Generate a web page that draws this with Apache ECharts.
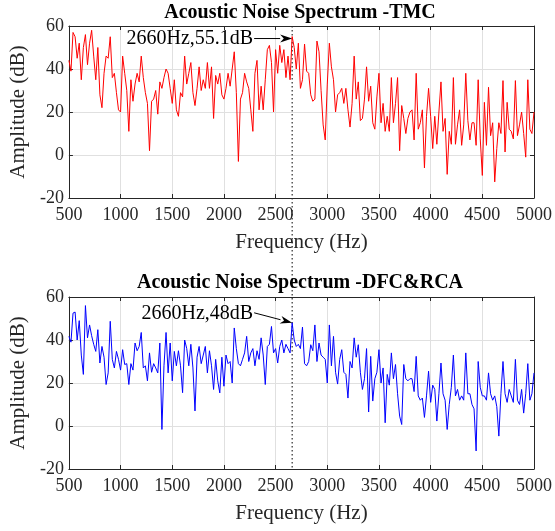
<!DOCTYPE html>
<html><head><meta charset="utf-8">
<script src="https://cdn.jsdelivr.net/npm/echarts@6/dist/echarts.min.js"></script>
<style>html,body{margin:0;padding:0;background:#fff}#c{width:555px;height:531px}</style>
</head><body><div id="c"></div>
<script>
// Sampling grid of the spectra (Hz)
const freqStart = 500;
const freqStep = 20;

// Acoustic noise spectrum with TMC (dB), 500..5000 Hz, 20 Hz step
const tmcAmplitude = [
  44, 39, 57, 55, 45, 52, 35, 50, 56, 42,
  52, 58, 46, 35, 50, 28, 22, 38, 46, 45,
  55, 36, 38, 29, 21, 20, 46, 38, 30, 11,
  35, 25, 33, 38, 34, 46, 36, 29, 24, 2,
  25, 26, 30, 19, 34, 31, 36, 40, 38, 31,
  24, 35, 21, 18, 29, 27, 46, 33, 38, 43,
  29, 23, 31, 41, 30, 35, 31, 43, 31, 41,
  17, 37, 33, 38, 28, 26, 31, 38, 32, 40,
  48, 29, -3, 26, 29, 38, 34, 31, 21, 11,
  38, 44, 21, 32, 21, 35, 49, 51, 43, 20,
  49, 38, 51, 43, 49, 36, 46, 35, 55.1, 50,
  40, 52, 31, 35, 51.6, 39, 38, 28, 25, 26,
  53, 48, 30, 14, 7, 33, 52, 41, 35, 20,
  28, 29, 31, 24, 31, 21, 13, 24, 46, 26,
  34, 16, 17, 26, 41, 25, 32, 15, 12, 27,
  38, 15, 24, 11, 18, 11, 36, 15, 24, 36,
  2, 23, 17, 10, 17, 20, 21, 7, 38, 12,
  15, 21, -6, 18, 31, 18, 3, 18, 5, 20,
  34, 11, 17, -9, 11, 5, 36, 5, 14, 21,
  4.5, 14, 38, 16, 7, 15, 15, 4.5, 35, 7.5,
  -9.5, 24.5, 4.5, 31.5, 9, 15, -12.5, 3, 15, 10,
  34.6, 1.4, 24.5, 12, 11, 7.5, 34.6, 9, 14, 20,
  10, -1, 35, 12, 10, 20
];

// Acoustic noise spectrum with DFC&RCA (dB), 500..5000 Hz, 20 Hz step
const dfcAmplitude = [
  41.7, 39, 52.5, 53, 40, 49, 33, 24, 56, 41,
  47, 42, 38, 34.7, 44.8, 29.3, 37, 32, 19.3, 24.7,
  48.7, 31, 27, 34.7, 31, 26, 35.5, 28.6, 29, 19.3,
  29, 26, 38.6, 35, 37, 43.5, 27, 28, 21, 34,
  25, 29, 27, 24.7, 38.6, -1.6, 28, 43.5, 24.7, 38.6,
  21, 34.7, 28, 35, 28, 15.5, 40, 36, 28, 38,
  27, 7, 32, 37, 29, 33, 37, 24.7, 35, 28,
  17, 31, 21, 15.4, 32, 18.5, 33, 29, 30, 20,
  45.6, 36, 29, 28, 31, 34, 41.7, 30, 34, 36,
  28, 35, 31, 41, 33, 19.3, 37, 38, 46.3, 34,
  36, 29.3, 37, 40, 34, 38, 36, 34, 48, 40,
  37, 38, 36, 46, 29, 28, 30, 37.8, 35, 47,
  30, 38.6, 33, 32, 31, 20, 47, 28, 41.7, 25,
  19.5, 31, 35.5, 25, 24, 13, 30, 27, 41, 32,
  37.8, 25, 17, 22, 36, 6.5, 32.4, 11.6, 22, 25,
  35.5, 20, 27, 1.5, 24, 19, 34, 22, 28.6, 15,
  4.6, 0.7, 28.6, 22, 21, 22, 22, 16, 32.4, 14,
  12, 13, 4, 14, 25.5, 11, 19, 17, 2.3, 15,
  29.3, 15, 12, -1.6, 10, 18, 33, 14, 17, 12,
  14, 12, 34, 15, 15, 10, 8, -11.6, 30, 18,
  14, 14, 12, 24.7, 15, 12, 14, 9, -4.7, 15,
  30, 15, 11, 17, 14, 11, 31, 12, 10, 17,
  6, 15, 29, 12, 15, 24.7
];

const titles = ['Acoustic Noise Spectrum -TMC', 'Acoustic Noise Spectrum -DFC&RCA'];
const xName = 'Frequency (Hz)';
const yName = 'Amplitude (dB)';
const xMin = 500, xMax = 5000, xInterval = 500;
const yMin = -20, yMax = 60, yInterval = 20;
const markFreq = 2660;
const markValues = [55.1, 48];
const markLabels = ['2660Hz,55.1dB', '2660Hz,48dB'];

const FONT = "'Liberation Serif','Times New Roman',serif";
const AX = '#262626';
const chart = echarts.init(document.getElementById('c'), null, {renderer: 'canvas'});

const toPairs = arr => arr.map((v, i) => [freqStart + i * freqStep, v]);
const plain = v => String(v);

const grids = [
  {left: 67, top: 26, width: 469, height: 172},
  {left: 67, top: 297, width: 469, height: 172}
];

const xAxes = [], yAxes = [];
grids.forEach((g, gi) => {
  xAxes.push({
    type: 'value', gridIndex: gi, position: 'bottom', min: xMin, max: xMax, interval: xInterval,
    axisLine: {onZero: false, lineStyle: {color: AX, width: 1}},
    axisTick: {inside: true, length: 4, lineStyle: {color: AX}},
    axisLabel: {color: AX, fontSize: 18, fontFamily: FONT, margin: 8, formatter: plain},
    splitLine: {show: true, lineStyle: {color: '#e0e0e0', width: 1}},
    name: xName, nameLocation: 'middle', nameGap: 34,
    nameTextStyle: {fontSize: 21, color: AX, fontFamily: FONT}
  });
  xAxes.push({
    type: 'value', gridIndex: gi, position: 'top', min: xMin, max: xMax, interval: xInterval,
    axisLine: {onZero: false, lineStyle: {color: AX, width: 1}},
    axisTick: {inside: true, length: 4, lineStyle: {color: AX}},
    axisLabel: {show: false}, splitLine: {show: false}
  });
  yAxes.push({
    type: 'value', gridIndex: gi, position: 'left', min: yMin, max: yMax, interval: yInterval,
    axisLine: {onZero: false, lineStyle: {color: AX, width: 1}},
    axisTick: {inside: true, length: 4, lineStyle: {color: AX}},
    axisLabel: {color: AX, fontSize: 18, fontFamily: FONT, margin: 5, formatter: plain},
    splitLine: {show: true, lineStyle: {color: '#e0e0e0', width: 1}},
    name: yName, nameLocation: 'middle', nameGap: 38, nameRotate: 90,
    nameTextStyle: {fontSize: 21, color: AX, fontFamily: FONT}
  });
  yAxes.push({
    type: 'value', gridIndex: gi, position: 'right', min: yMin, max: yMax, interval: yInterval,
    axisLine: {onZero: false, lineStyle: {color: AX, width: 1}},
    axisTick: {inside: true, length: 4, lineStyle: {color: AX}},
    axisLabel: {show: false}, splitLine: {show: false}
  });
});

chart.setOption({
  animation: false,
  backgroundColor: '#ffffff',
  title: [
    {text: titles[0], left: 295, top: -2, textAlign: 'center',
     textStyle: {fontFamily: FONT, fontWeight: 'bold', fontSize: 20, color: '#000'}},
    {text: titles[1], left: 295, top: 268, textAlign: 'center',
     textStyle: {fontFamily: FONT, fontWeight: 'bold', fontSize: 20, color: '#000'}}
  ],
  grid: grids,
  xAxis: xAxes,
  yAxis: yAxes,
  series: [
    {type: 'line', name: 'TMC', xAxisIndex: 0, yAxisIndex: 0, data: toPairs(tmcAmplitude),
     showSymbol: false, lineStyle: {color: '#ff0000', width: 1}, itemStyle: {color: '#ff0000'}},
    {type: 'line', name: 'DFC&RCA', xAxisIndex: 2, yAxisIndex: 2, data: toPairs(dfcAmplitude),
     showSymbol: false, lineStyle: {color: '#0000ff', width: 1}, itemStyle: {color: '#0000ff'}}
  ]
});

// annotations (dotted marker line and arrows) placed through the axes' scales
const topPt = chart.convertToPixel({xAxisIndex: 0, yAxisIndex: 0}, [markFreq, yMax]);
const botPt = chart.convertToPixel({xAxisIndex: 2, yAxisIndex: 2}, [markFreq, yMin]);
const tips = [
  chart.convertToPixel({xAxisIndex: 0, yAxisIndex: 0}, [markFreq, markValues[0]]),
  chart.convertToPixel({xAxisIndex: 2, yAxisIndex: 2}, [markFreq, markValues[1]])
];
const tailOffsets = [[-38, 2], [-38, -10]];
const graphics = [{
  type: 'line', silent: true,
  shape: {x1: topPt[0], y1: topPt[1], x2: botPt[0], y2: botPt[1]},
  style: {stroke: '#000', lineWidth: 1, lineDash: [1.5, 2.5]}
}];
tips.forEach((tip, i) => {
  const t = [tip[0], tip[1] + (i === 0 ? 2 : 0)];
  const tail = [tip[0] + tailOffsets[i][0], tip[1] + tailOffsets[i][1]];
  const dx = t[0] - tail[0], dy = t[1] - tail[1];
  const len = Math.hypot(dx, dy), ux = dx / len, uy = dy / len;
  const L = 12, W = 4;
  const bx = t[0] - ux * L, by = t[1] - uy * L;
  graphics.push({type: 'line', silent: true, shape: {x1: tail[0], y1: tail[1], x2: bx, y2: by},
    style: {stroke: '#000', lineWidth: 1}});
  graphics.push({type: 'polygon', silent: true,
    shape: {points: [[t[0], t[1]], [bx - uy * W, by + ux * W], [t[0] - ux * L * 0.7, t[1] - uy * L * 0.7], [bx + uy * W, by - ux * W]]},
    style: {fill: '#000'}});
  graphics.push({type: 'text', silent: true, x: tail[0] - 1, y: tail[1] + (i === 0 ? 0 : 1),
    style: {text: markLabels[i], font: "20px 'Liberation Serif','Times New Roman',serif",
      fill: '#000', textAlign: 'right', textVerticalAlign: 'middle'}});
});
chart.setOption({graphic: graphics});
</script></body></html>
